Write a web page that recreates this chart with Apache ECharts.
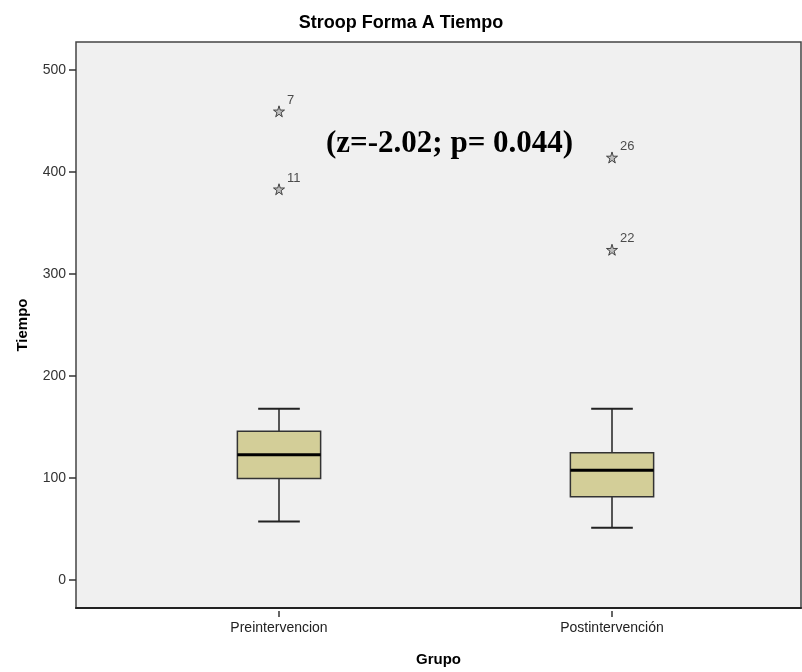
<!DOCTYPE html>
<html>
<head>
<meta charset="utf-8">
<style>
  html, body { margin: 0; padding: 0; background: #ffffff; }
  #chart { width: 802px; height: 672px; }
</style>
<script src="https://cdn.jsdelivr.net/npm/echarts@6/dist/echarts.min.js"></script>
</head>
<body>
<div id="chart"></div>
<script>
// Groups and five-number summaries (Tiempo)
const categories = ['Preintervencion', 'Postintervención'];
const whiskerLow = [60, 54];
const quartile1 = [102, 84];
const medians = [125, 110];
const quartile3 = [148, 127];
const whiskerHigh = [170, 170];

// Extreme values, marked with a star and the case number
const outlierGroup = [0, 0, 1, 1];
const outlierValue = [460, 384, 415, 325];
const outlierCase = ['7', '11', '26', '22'];

const yTicks = [0, 100, 200, 300, 400, 500];
const yMin = -27.3;
const yMax = 527.6;

const boxData = categories.map((c, i) => [i, whiskerLow[i], quartile1[i], medians[i], quartile3[i], whiskerHigh[i]]);
const outlierData = outlierValue.map((v, i) => [outlierGroup[i], v, outlierCase[i]]);

const ink = '#222222';
const STAR = 'path://M50,0 L61,35 L98,35 L68,57 L79,91 L50,70 L21,91 L32,57 L2,35 L39,35 Z';

function renderBox(params, api) {
  const x = api.value(0);
  const pLow = api.coord([x, api.value(1)]);
  const pQ1 = api.coord([x, api.value(2)]);
  const pMed = api.coord([x, api.value(3)]);
  const pQ3 = api.coord([x, api.value(4)]);
  const pHigh = api.coord([x, api.value(5)]);
  const band = api.size([1, 0])[0];
  const boxW = band * 0.25;
  const capW = boxW * 0.5;
  const cx = pMed[0];
  const line = { stroke: ink, lineWidth: 1.5 };
  return {
    type: 'group',
    children: [
      { type: 'line', shape: { x1: cx, y1: pQ3[1], x2: cx, y2: pHigh[1] }, style: line },
      { type: 'line', shape: { x1: cx, y1: pQ1[1], x2: cx, y2: pLow[1] }, style: line },
      { type: 'line', shape: { x1: cx - capW / 2, y1: pHigh[1], x2: cx + capW / 2, y2: pHigh[1] }, style: { stroke: ink, lineWidth: 2 } },
      { type: 'line', shape: { x1: cx - capW / 2, y1: pLow[1], x2: cx + capW / 2, y2: pLow[1] }, style: { stroke: ink, lineWidth: 2 } },
      { type: 'rect', shape: { x: cx - boxW / 2, y: pQ3[1], width: boxW, height: pQ1[1] - pQ3[1] },
        style: { fill: '#d3ce98', stroke: '#333333', lineWidth: 1.5 } },
      { type: 'line', shape: { x1: cx - boxW / 2, y1: pMed[1], x2: cx + boxW / 2, y2: pMed[1] }, style: { stroke: '#000000', lineWidth: 3 } }
    ]
  };
}

const chart = echarts.init(document.getElementById('chart'), null, { renderer: 'canvas' });
chart.setOption({
  animation: false,
  backgroundColor: '#ffffff',
  textStyle: { fontFamily: 'Liberation Sans, Arial, sans-serif' },
  title: [
    {
      text: 'Stroop Forma A Tiempo',
      left: 'center',
      top: 9,
      textStyle: { fontSize: 18, fontWeight: 'bold', color: '#000000', fontFamily: 'Liberation Sans, Arial, sans-serif' }
    },
    {
      text: '(z=-2.02; p= 0.044)',
      left: 321,
      top: 122,
      textStyle: { fontSize: 31, fontWeight: 'bold', color: '#000000', fontFamily: 'Liberation Serif, Times New Roman, serif', lineHeight: 34 }
    }
  ],
  grid: [
    { // frame and background
      left: 76, right: 1, top: 42, bottom: 61,
      show: true, backgroundColor: '#f0f0f0', borderColor: '#444444', borderWidth: 1.5
    },
    { // data area
      left: 112.5, right: 23.5, top: 42, bottom: 61
    }
  ],
  xAxis: [
    {
      gridIndex: 0, type: 'value', min: 0, max: 1,
      name: 'Grupo', nameLocation: 'middle', nameGap: 44,
      nameTextStyle: { fontSize: 15, fontWeight: 'bold', color: '#000000' },
      axisLine: { show: true, onZero: false, lineStyle: { color: '#222222', width: 2 } },
      axisTick: { show: false }, axisLabel: { show: false }, splitLine: { show: false }
    },
    {
      gridIndex: 1, type: 'category', data: categories, boundaryGap: true,
      axisLine: { show: false, onZero: false },
      axisTick: { show: true, alignWithLabel: true, length: 6, lineStyle: { color: '#333333', width: 1.5 } },
      axisLabel: { fontSize: 14, color: '#222222', margin: 10 },
      splitLine: { show: false }
    }
  ],
  yAxis: [
    {
      gridIndex: 0, type: 'value', min: yMin, max: yMax,
      name: 'Tiempo', nameLocation: 'middle', nameGap: 46, nameRotate: 90,
      nameTextStyle: { fontSize: 15, fontWeight: 'bold', color: '#000000' },
      axisLine: { show: false },
      axisTick: { show: true, length: 7, customValues: yTicks, lineStyle: { color: '#333333', width: 1.5 } },
      axisLabel: { fontSize: 14, color: '#333333', margin: 10, customValues: yTicks },
      splitLine: { show: false }
    },
    {
      gridIndex: 1, type: 'value', min: yMin, max: yMax, show: false,
      splitLine: { show: false }
    }
  ],
  series: [
    {
      type: 'custom',
      xAxisIndex: 1, yAxisIndex: 1,
      data: boxData,
      renderItem: renderBox,
      encode: { x: 0, y: [1, 2, 3, 4, 5] },
      z: 3
    },
    {
      type: 'scatter',
      xAxisIndex: 1, yAxisIndex: 1,
      data: outlierData,
      symbol: STAR,
      symbolSize: 11,
      itemStyle: { color: 'rgba(60,60,60,0.35)', borderColor: '#222222', borderWidth: 1 },
      label: {
        show: true,
        position: 'right',
        offset: [-3, -11],
        formatter: p => p.value[2],
        fontSize: 13,
        color: '#222222'
      },
      z: 4
    }
  ]
});
</script>
</body>
</html>
